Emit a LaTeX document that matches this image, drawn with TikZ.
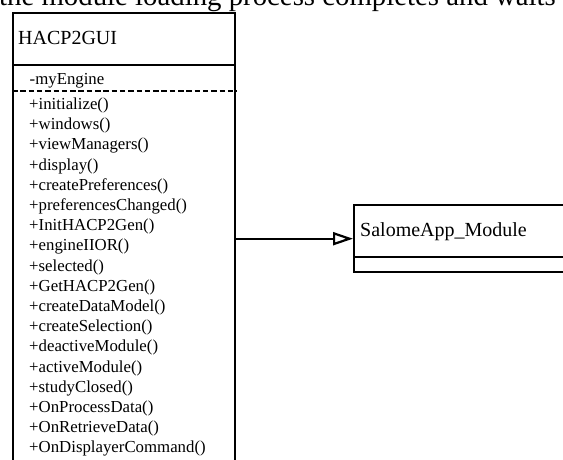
\documentclass[tikz,border=0pt]{standalone}
\usepackage{fontspec}
\setmainfont{Liberation Serif}
\usetikzlibrary{arrows.meta}
\begin{document}
\begin{tikzpicture}[x=1pt,y=-1pt,
  classbox/.style={draw=black,line width=2.4pt,inner sep=0pt,anchor=north west},
  member/.style={anchor=base west,inner sep=0pt,font=\fontsize{16.8}{20}\selectfont},
  classname/.style={anchor=base west,inner sep=0pt,font=\fontsize{20}{24}\selectfont},
  divider/.style={line width=2.4pt},
  sepline/.style={line width=2.2pt,dash pattern=on 5.5pt off 2.8pt},
  inherit/.style={line width=2.2pt,-{Triangle[open,length=20pt,width=13pt,line width=2.2pt]}}]
\clip (0,0) rectangle (563,460);

% running text of the page above the figure
\node[anchor=base west,inner sep=0pt,font=\fontsize{28.8}{34}\selectfont] (caption) at (-1,5.5)
  {the module loading process completes and waits};

% class HACP2GUI
\node[classbox,minimum width=222pt,minimum height=470pt] (gui) at (12,12) {};
\draw[divider] ([yshift=-53pt]gui.north west) -- ([yshift=-53pt]gui.north east);
\draw[sepline] ([yshift=-79pt]gui.north west) -- ([yshift=-79pt]gui.north east);
\node[classname] (guiname) at (18,45) {HACP2GUI};
\node[member] (attr) at (29.5,84.5) {-myEngine};
\foreach \m [count=\i from 0] in {%
  +initialize(),+windows(),+viewManagers(),+display(),+createPreferences(),%
  +preferencesChanged(),+InitHACP2Gen(),+engineIIOR(),+selected(),%
  +GetHACP2Gen(),+createDataModel(),+createSelection(),+deactiveModule(),%
  +activeModule(),+studyClosed(),+OnProcessData(),+OnRetrieveData(),%
  +OnDisplayerCommand()}
  \node[member] (op\i) at (29,109.5+20.2*\i) {\m};

% class SalomeApp_Module
\node[classbox,minimum width=300pt,minimum height=67pt] (sal) at (353,204) {};
\draw[divider] ([yshift=-53pt]sal.north west) -- ([yshift=-53pt]sal.north east);
\node[classname] (salname) at (360,236.5) {SalomeApp\_Module};

% generalisation
\draw[inherit] (sal.west -| gui.east) -- (sal.west);
\end{tikzpicture}
\end{document}
